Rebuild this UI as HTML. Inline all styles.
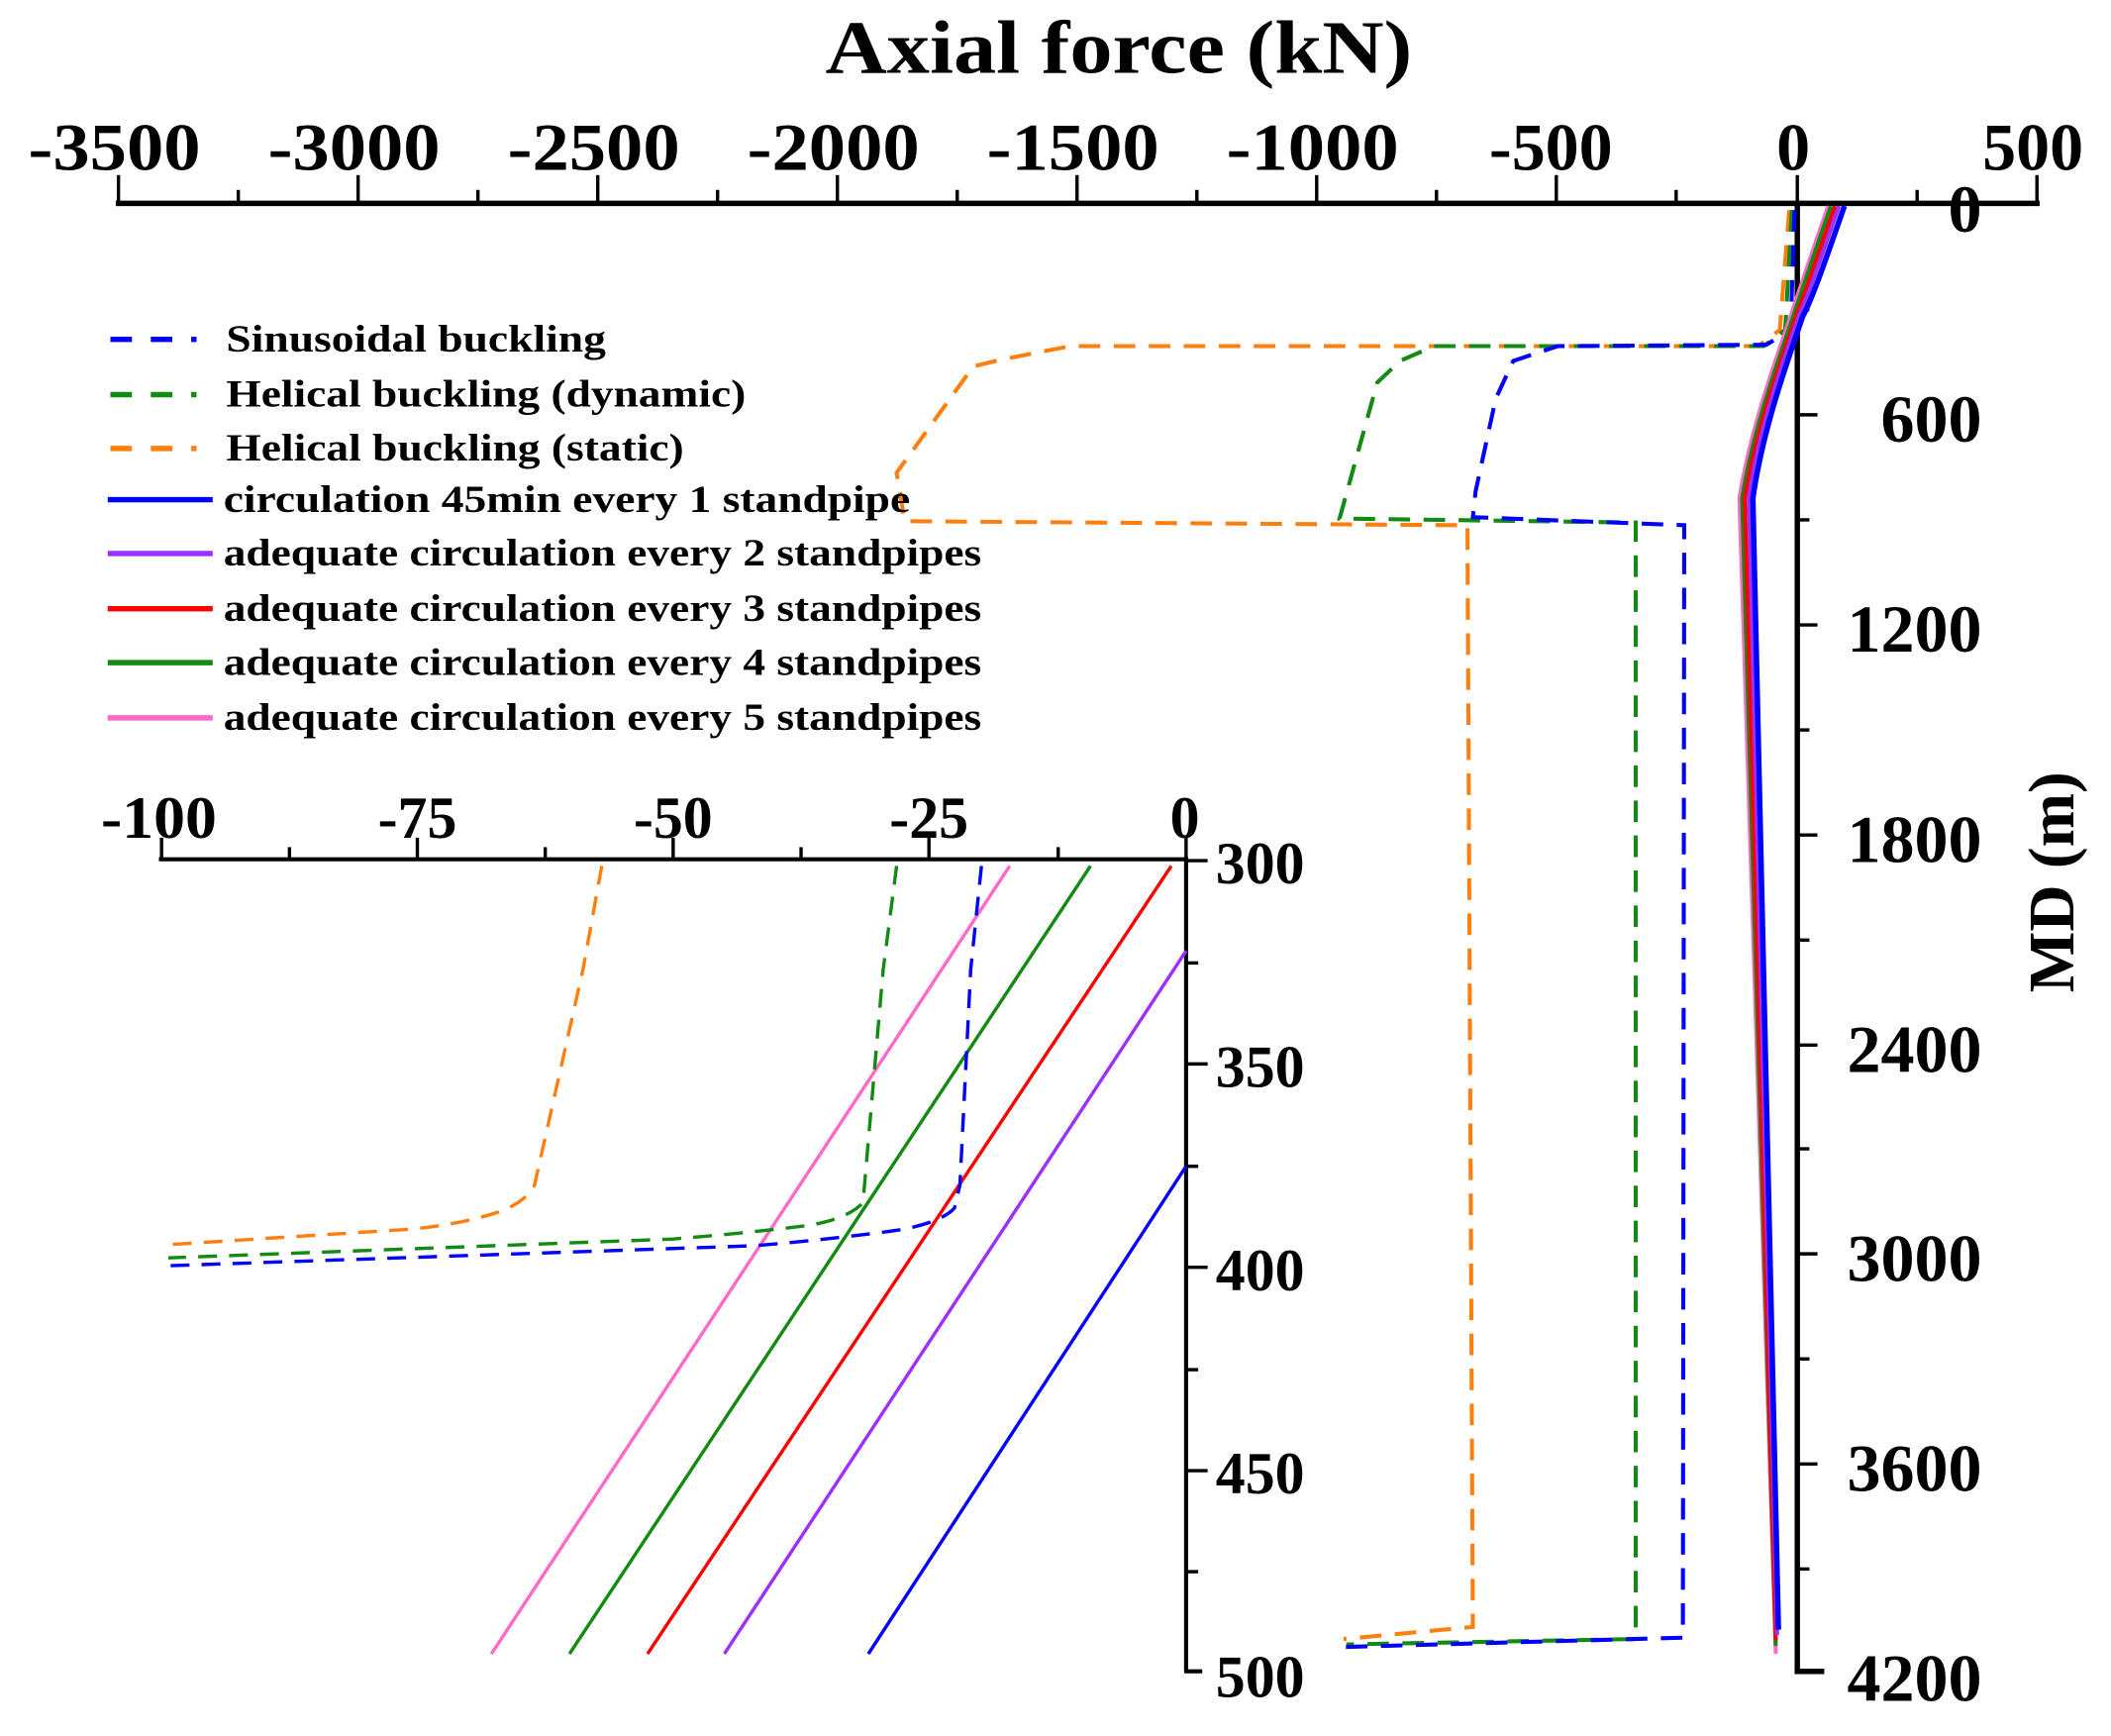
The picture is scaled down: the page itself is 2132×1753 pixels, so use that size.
<!DOCTYPE html>
<html><head><meta charset="utf-8"><style>
html,body{margin:0;padding:0;background:#fff;}
svg{display:block;}
text{font-family:"Liberation Serif",serif;font-weight:bold;fill:#000;}
</style></head><body>
<svg width="2132" height="1753" viewBox="0 0 1568 1289" preserveAspectRatio="none" xmlns="http://www.w3.org/2000/svg">
<rect width="1568" height="1289" fill="#fff"/>
<!-- Title -->
<text x="831" y="54" font-size="56" text-anchor="middle" textLength="436" lengthAdjust="spacingAndGlyphs">Axial force  (kN)</text>
<!-- top axis -->
<g stroke="#000" stroke-width="4" fill="none">
<line x1="86" y1="151" x2="1515" y2="151"/>
<line x1="1335" y1="149" x2="1335" y2="1243"/>
<line x1="1333" y1="1241" x2="1355" y2="1241"/>
</g>
<g stroke="#000" stroke-width="2.5">
<line x1="88" y1="151" x2="88" y2="130"/><line x1="177" y1="151" x2="177" y2="141"/>
<line x1="266" y1="151" x2="266" y2="130"/><line x1="355" y1="151" x2="355" y2="141"/>
<line x1="444" y1="151" x2="444" y2="130"/><line x1="533" y1="151" x2="533" y2="141"/>
<line x1="622" y1="151" x2="622" y2="130"/><line x1="711" y1="151" x2="711" y2="141"/>
<line x1="800" y1="151" x2="800" y2="130"/><line x1="889" y1="151" x2="889" y2="141"/>
<line x1="978" y1="151" x2="978" y2="130"/><line x1="1067" y1="151" x2="1067" y2="141"/>
<line x1="1156" y1="151" x2="1156" y2="130"/><line x1="1245" y1="151" x2="1245" y2="141"/>
<line x1="1335" y1="151" x2="1335" y2="130"/><line x1="1424" y1="151" x2="1424" y2="141"/>
<line x1="1513" y1="151" x2="1513" y2="130"/>
<!-- right ticks -->
<line x1="1335" y1="230" x2="1344" y2="230"/><line x1="1335" y1="308" x2="1350" y2="308"/>
<line x1="1335" y1="386" x2="1344" y2="386"/><line x1="1335" y1="464" x2="1350" y2="464"/>
<line x1="1335" y1="542" x2="1344" y2="542"/><line x1="1335" y1="620" x2="1350" y2="620"/>
<line x1="1335" y1="698" x2="1344" y2="698"/><line x1="1335" y1="776" x2="1350" y2="776"/>
<line x1="1335" y1="853" x2="1344" y2="853"/><line x1="1335" y1="931" x2="1350" y2="931"/>
<line x1="1335" y1="1009" x2="1344" y2="1009"/><line x1="1335" y1="1087" x2="1350" y2="1087"/>
<line x1="1335" y1="1165" x2="1344" y2="1165"/>
</g>
<g font-size="50" text-anchor="middle">
<text x="85" y="126" textLength="128" lengthAdjust="spacingAndGlyphs">-3500</text><text x="263" y="126" textLength="128" lengthAdjust="spacingAndGlyphs">-3000</text><text x="441" y="126" textLength="128" lengthAdjust="spacingAndGlyphs">-2500</text>
<text x="619" y="126" textLength="128" lengthAdjust="spacingAndGlyphs">-2000</text><text x="797" y="126" textLength="128" lengthAdjust="spacingAndGlyphs">-1500</text><text x="975" y="126" textLength="128" lengthAdjust="spacingAndGlyphs">-1000</text>
<text x="1152" y="126">-500</text><text x="1332" y="126">0</text><text x="1510" y="126">500</text>
</g>
<g font-size="50" text-anchor="end">
<text x="1472" y="172">0</text><text x="1472" y="328">600</text><text x="1472" y="484">1200</text>
<text x="1472" y="640">1800</text><text x="1472" y="796">2400</text><text x="1472" y="951">3000</text>
<text x="1472" y="1107">3600</text><text x="1472" y="1263">4200</text>
</g>
<text transform="translate(1540,655) rotate(-90)" font-size="48" text-anchor="middle">MD (m)</text>

<!-- main dashed series -->
<g fill="none" stroke-width="3" stroke-dasharray="16,10">
<path stroke="#ff7f0e" d="M1329,156 L1322,245 L1306,257 L795,257 L744,267 L723,272 L666,351 L672,387 L1090,390 L1094,1208 L998,1217"/>
<path stroke="#138a13" d="M1331,156 L1326,245 L1310,257 L1065,257 L1040,268 L1023,284 L995,385 L1215,388 L1215,1217 L1000,1221"/>
<path stroke="#0000ff" d="M1333,156 L1330,245 L1312,256 L1157,257 L1124,268 L1111,296 L1096,365 L1094,384 L1251,390 L1250,1216 L995,1223"/>
</g>
<!-- main solid series -->
<g fill="none" stroke-width="3">
<path stroke="#ff69c8" d="M1358,153 C1345,190 1335,220 1330,235 C1318,270 1300,320 1292,370 L1319,1228"/>
<path stroke="#138a13" d="M1360,153 C1347,190 1337,220 1332,235 C1320,270 1302,320 1294,370 L1319,1222"/>
<path stroke="#ff0000" d="M1363,153 C1350,190 1340,220 1334,235 C1322,270 1304,320 1296,370 L1319,1218"/>
<path stroke="#9b30ff" d="M1366,153 C1353,190 1343,220 1336,235 C1324,270 1306,320 1299,370 L1320,1214"/>
<path stroke="#0000ff" stroke-width="4" d="M1370,153 C1357,190 1347,220 1339,235 C1327,270 1309,320 1302,370 L1321,1210"/>
</g>

<!-- legend -->
<g stroke-width="4">
<line x1="82" y1="252" x2="146" y2="252" stroke="#0000ff" stroke-dasharray="16,14"/>
<line x1="82" y1="293" x2="146" y2="293" stroke="#138a13" stroke-dasharray="16,14"/>
<line x1="82" y1="333" x2="146" y2="333" stroke="#ff7f0e" stroke-dasharray="16,14"/>
<line x1="80" y1="371" x2="158" y2="371" stroke="#0000ff"/>
<line x1="80" y1="411" x2="158" y2="411" stroke="#9b30ff"/>
<line x1="80" y1="452" x2="158" y2="452" stroke="#ff0000"/>
<line x1="80" y1="492" x2="158" y2="492" stroke="#138a13"/>
<line x1="80" y1="533" x2="158" y2="533" stroke="#ff69c8"/>
</g>
<g font-size="29">
<text x="168" y="261" textLength="282" lengthAdjust="spacingAndGlyphs">Sinusoidal buckling</text>
<text x="168" y="302" textLength="386" lengthAdjust="spacingAndGlyphs">Helical buckling (dynamic)</text>
<text x="168" y="342" textLength="340" lengthAdjust="spacingAndGlyphs">Helical buckling (static)</text>
<text x="166" y="380" textLength="510" lengthAdjust="spacingAndGlyphs">circulation 45min every 1 standpipe</text>
<text x="166" y="420" textLength="563" lengthAdjust="spacingAndGlyphs">adequate circulation every 2 standpipes</text>
<text x="166" y="461" textLength="563" lengthAdjust="spacingAndGlyphs">adequate circulation every 3 standpipes</text>
<text x="166" y="501" textLength="563" lengthAdjust="spacingAndGlyphs">adequate circulation every 4 standpipes</text>
<text x="166" y="542" textLength="563" lengthAdjust="spacingAndGlyphs">adequate circulation every 5 standpipes</text>
</g>

<!-- inset axes -->
<g stroke="#000" stroke-width="3" fill="none">
<line x1="118" y1="638" x2="882" y2="638"/>
<line x1="881" y1="636" x2="881" y2="1242"/>
<line x1="880" y1="1241" x2="893" y2="1241"/>
</g>
<g stroke="#000" stroke-width="2.5">
<line x1="120" y1="638" x2="120" y2="622"/><line x1="215" y1="638" x2="215" y2="629"/>
<line x1="310" y1="638" x2="310" y2="622"/><line x1="405" y1="638" x2="405" y2="629"/>
<line x1="500" y1="638" x2="500" y2="622"/><line x1="595" y1="638" x2="595" y2="629"/>
<line x1="690" y1="638" x2="690" y2="622"/><line x1="786" y1="638" x2="786" y2="629"/>
<line x1="881" y1="638" x2="881" y2="622"/>
<line x1="881" y1="639" x2="897" y2="639"/><line x1="881" y1="715" x2="890" y2="715"/>
<line x1="881" y1="790" x2="897" y2="790"/><line x1="881" y1="866" x2="890" y2="866"/>
<line x1="881" y1="941" x2="897" y2="941"/><line x1="881" y1="1017" x2="890" y2="1017"/>
<line x1="881" y1="1092" x2="897" y2="1092"/><line x1="881" y1="1167" x2="890" y2="1167"/>
</g>
<g font-size="44" text-anchor="middle">
<text x="118" y="622" textLength="86" lengthAdjust="spacingAndGlyphs">-100</text><text x="310" y="622">-75</text><text x="500" y="622">-50</text>
<text x="690" y="622">-25</text><text x="880" y="622">0</text>
</g>
<g font-size="44">
<text x="903" y="656">300</text><text x="903" y="807">350</text><text x="903" y="958">400</text>
<text x="903" y="1109">450</text><text x="903" y="1260">500</text>
</g>
<!-- inset solid -->
<g fill="none" stroke-width="2.5">
<line x1="750" y1="643" x2="365" y2="1228" stroke="#ff69c8"/>
<line x1="810" y1="643" x2="423" y2="1228" stroke="#138a13"/>
<line x1="870" y1="643" x2="481" y2="1228" stroke="#ff0000"/>
<line x1="881" y1="706" x2="538" y2="1228" stroke="#9b30ff"/>
<line x1="881" y1="866" x2="645" y2="1228" stroke="#0000ff"/>
</g>
<!-- inset dashed -->
<g fill="none" stroke-width="2.5" stroke-dasharray="14,9">
<path stroke="#ff7f0e" d="M447,643 L433,720 L397,880 Q390,893 370,900 Q340,910 300,913 L128,924"/>
<path stroke="#138a13" d="M666,643 L656,720 L641,893 Q630,905 600,910 Q560,915 500,920 L125,934"/>
<path stroke="#0000ff" d="M729,643 L721,720 L713,880 L709,897 Q700,907 670,913 Q620,920 560,925 L120,940"/>
</g>
</svg>
</body></html>
